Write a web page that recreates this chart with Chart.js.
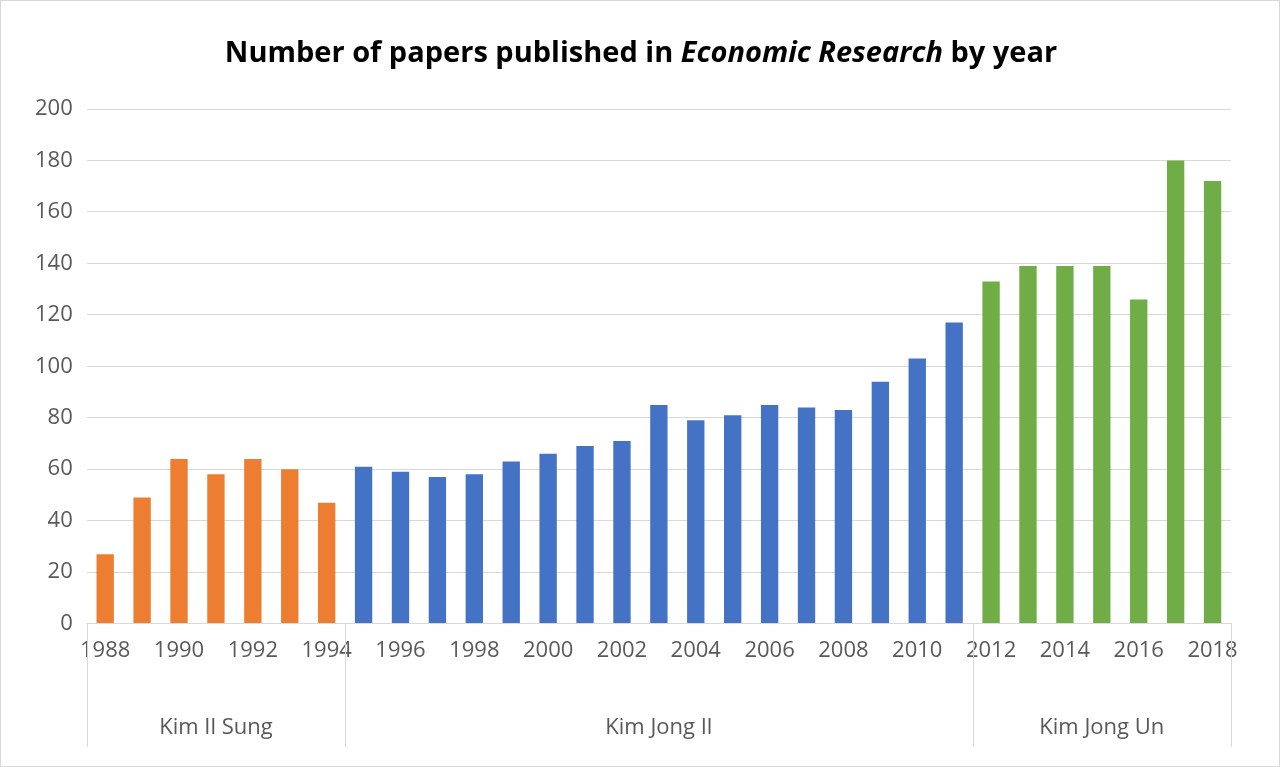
<!DOCTYPE html>
<html><head><meta charset="utf-8">
<script src="https://cdn.jsdelivr.net/npm/chart.js@4/dist/chart.umd.min.js"></script>
<style>html,body{margin:0;padding:0;background:#fff}#w{width:1278px;height:765px;border:1px solid #d9d9d9;position:relative}</style>
</head><body><div id="w"><canvas id="c" width="1278" height="765"></canvas></div>
<script>
const years = ["1988","1989","1990","1991","1992","1993","1994","1995","1996","1997","1998","1999","2000","2001","2002","2003","2004","2005","2006","2007","2008","2009","2010","2011","2012","2013","2014","2015","2016","2017","2018"];
const papers = [27,49,64,58,64,60,47,61,59,57,58,63,66,69,71,85,79,81,85,84,83,94,103,117,133,139,139,139,126,180,172];
const groups = [{name:"Kim Il Sung",start:0,end:6,color:"#ED7D31"},{name:"Kim Jong Il",start:7,end:23,color:"#4472C4"},{name:"Kim Jong Un",start:24,end:30,color:"#70AD47"}];
const colors = years.map((y,i)=>groups.find(g=>i>=g.start&&i<=g.end).color);
const FONT = "'Open Sans', 'Liberation Sans', sans-serif";

const deco = {
  id:'deco',
  afterDraw(chart){
    const ctx = chart.ctx, ca = chart.chartArea, xs = chart.scales.x;
    // title
    ctx.save();
    ctx.fillStyle = '#000'; ctx.textBaseline = 'middle';
    const parts = [["Number of papers published in ","bold"],["Economic Research","italic bold"],[" by year","bold"]];
    let total = 0;
    parts.forEach(p=>{ctx.font = p[1]+" 29px "+FONT; total += ctx.measureText(p[0]).width;});
    let x = 640 - total/2;
    parts.forEach(p=>{ctx.font = p[1]+" 29px "+FONT; ctx.textAlign='left'; ctx.fillText(p[0],x,53); x += ctx.measureText(p[0]).width;});
    // groups
    const half = (xs.getPixelForValue(1)-xs.getPixelForValue(0))/2;
    ctx.strokeStyle = '#d9d9d9'; ctx.lineWidth = 1;
    ctx.font = "22px "+FONT; ctx.fillStyle = '#595959'; ctx.textAlign='center';
    groups.forEach((g,k)=>{
      const l = xs.getPixelForValue(g.start)-half, r = xs.getPixelForValue(g.end)+half;
      [l,r].forEach(px=>{ctx.beginPath(); ctx.moveTo(Math.round(px)+0.5,ca.bottom); ctx.lineTo(Math.round(px)+0.5,746); ctx.stroke();});
      ctx.fillText(g.name,(l+r)/2,727);
    });
    ctx.restore();
  }
};

new Chart(document.getElementById('c'),{
  type:'bar',
  data:{labels:years,datasets:[{data:papers,backgroundColor:colors,categoryPercentage:1,barPercentage:0.47}]},
  options:{
    responsive:false,animation:false,
    layout:{padding:{top:108,left:20,right:48,bottom:88}},
    plugins:{legend:{display:false},tooltip:{enabled:false}},
    scales:{
      y:{min:0,max:200,ticks:{stepSize:20,color:'#595959',font:{size:22,family:FONT},padding:14},
         grid:{color:'#d9d9d9',drawTicks:false},border:{display:false}},
      x:{grid:{display:false,drawTicks:false},border:{color:'#d9d9d9'},
         ticks:{autoSkip:false,maxRotation:0,color:'#595959',font:{size:22,family:FONT},padding:14,
                callback:(v,i)=>i%2===0?years[i]:''}}
    }
  },
  plugins:[deco]
});
</script></body></html>
